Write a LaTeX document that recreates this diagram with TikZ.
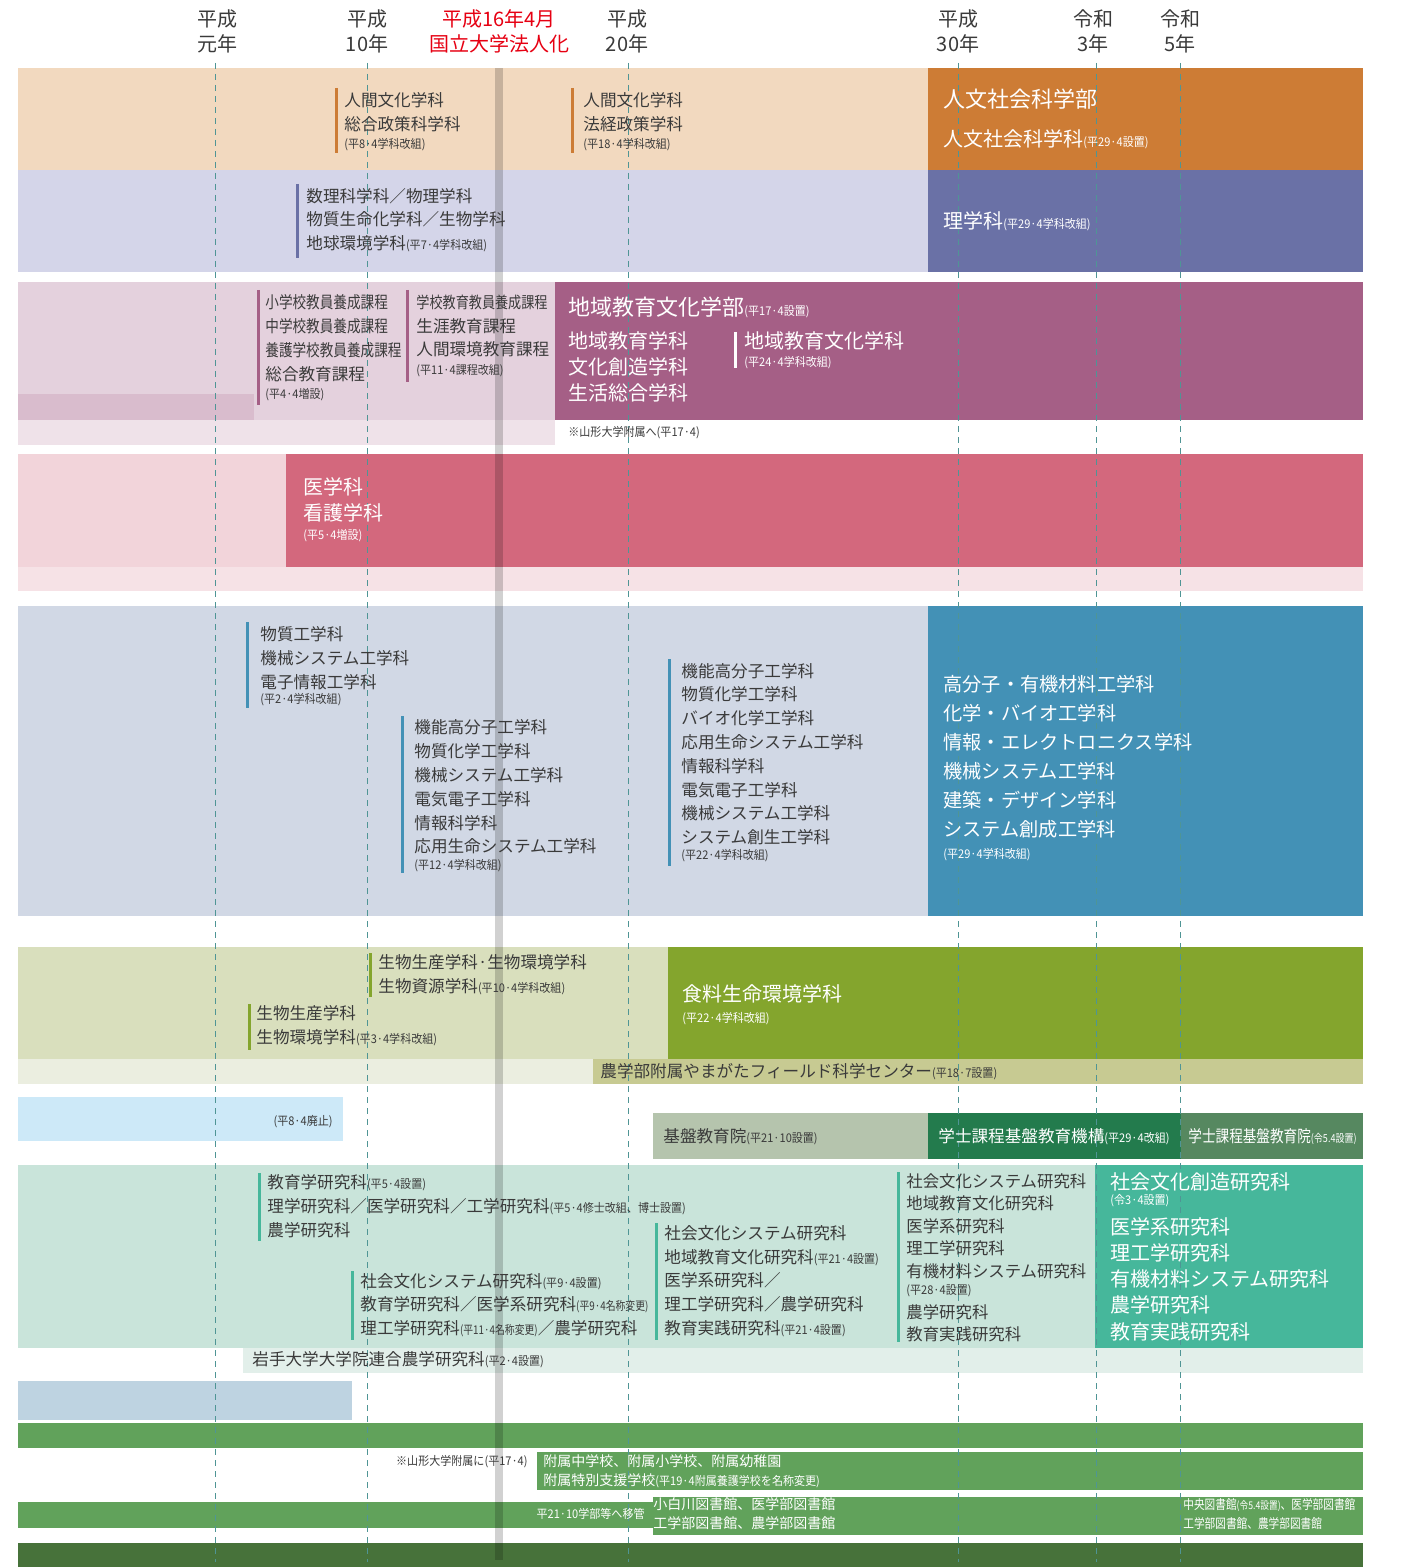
\documentclass[tikz,border=0pt]{standalone}
\usepackage{fontspec}
\setmainfont{Noto Sans CJK JP}
\newfontfamily\jpnarrow[FakeStretch=0.82]{Noto Sans CJK JP}
\newfontfamily\jpnote[FakeStretch=0.92]{Noto Sans CJK JP}

\definecolor{ink}{HTML}{3A3A3A}
\definecolor{eramark}{HTML}{E60012}
\definecolor{yearcol}{HTML}{4F9595}
\definecolor{humlight}{HTML}{F2D9BF}
\definecolor{humdark}{HTML}{CD7C35}
\definecolor{scilight}{HTML}{D4D5E9}
\definecolor{scidark}{HTML}{6A71A6}
\definecolor{edulight}{HTML}{E4D1DD}
\definecolor{edusub}{HTML}{D9BCCD}
\definecolor{edustripe}{HTML}{EFE2E9}
\definecolor{edudark}{HTML}{A55F86}
\definecolor{medlight}{HTML}{F2D4DA}
\definecolor{meddark}{HTML}{D3687D}
\definecolor{medstripe}{HTML}{F6E2E6}
\definecolor{englight}{HTML}{D1D8E5}
\definecolor{engdark}{HTML}{4391B6}
\definecolor{agrlight}{HTML}{D9DFBD}
\definecolor{agrdark}{HTML}{84A52D}
\definecolor{agrstripe}{HTML}{EBEEE0}
\definecolor{fieldcol}{HTML}{C7CA92}
\definecolor{oldblue}{HTML}{CDE9F8}
\definecolor{kibancol}{HTML}{B5C4AD}
\definecolor{kikoucol}{HTML}{237B4D}
\definecolor{kibanin}{HTML}{568860}
\definecolor{gradlight}{HTML}{C9E4DA}
\definecolor{graddark}{HTML}{46B79B}
\definecolor{gradstripe}{HTML}{E2EFEA}
\definecolor{steelcol}{HTML}{BED3E1}
\definecolor{schoolcol}{HTML}{61A25B}
\definecolor{darkrow}{HTML}{47723A}

\newcommand{\anno}[1]{{\jpnote\fontsize{6}{7}\selectfont #1}}
\newcommand{\annonarrow}[1]{{\jpnarrow\fontsize{6}{7}\selectfont #1}}

\tikzset{
  dept/.style={anchor=west, inner sep=0pt, align=left, text=ink, font=\fontsize{8.3}{11.9}\selectfont},
  wdept/.style={dept, text=white, font=\fontsize{10}{13}\selectfont},
  whead/.style={dept, text=white, font=\fontsize{11}{13}\selectfont},
  note/.style={anchor=west, inner sep=0pt, text=ink, font=\jpnote\fontsize{6}{7}\selectfont},
  wnote/.style={note, text=white},
  era/.style={align=center, inner sep=0pt, text=ink, font=\fontsize{10}{12.5}\selectfont},
  yearmark/.style={yearcol, line width=0.5pt, dash pattern=on 3pt off 2.5pt},
  deptbar/.style={line width=1.5pt},
}

\begin{document}
\begin{tikzpicture}[x=0.5pt,y=-0.5pt]
\useasboundingbox (0,0) rectangle (1410,1567);

% faculty bands
\fill[humlight] (18,68) rectangle (928,170);
\fill[humdark] (928,68) rectangle (1363,170);
\fill[scilight] (18,170) rectangle (928,272);
\fill[scidark] (928,170) rectangle (1363,272);
\fill[edulight] (18,282) rectangle (555,420);
\fill[edusub] (18,394) rectangle (254,420);
\fill[edustripe] (18,420) rectangle (555,445);
\fill[edudark] (555,282) rectangle (1363,420);
\fill[medlight] (18,454) rectangle (286,567);
\fill[meddark] (286,454) rectangle (1363,567);
\fill[medstripe] (18,567) rectangle (1363,591);
\fill[englight] (18,606) rectangle (928,916);
\fill[engdark] (928,606) rectangle (1363,916);
\fill[agrlight] (18,947) rectangle (668,1059);
\fill[agrdark] (668,947) rectangle (1363,1059);
\fill[agrstripe] (18,1059) rectangle (593,1084);
\fill[fieldcol] (593,1059) rectangle (1363,1084);
\fill[oldblue] (18,1097) rectangle (343,1141);
\fill[kibancol] (653,1113) rectangle (928,1159);
\fill[kikoucol] (928,1113) rectangle (1181,1159);
\fill[kibanin] (1181,1113) rectangle (1363,1159);
\fill[gradlight] (18,1165) rectangle (1095,1348);
\fill[graddark] (1095,1165) rectangle (1363,1348);
\fill[gradstripe] (243,1348) rectangle (1363,1373);
\fill[steelcol] (18,1381) rectangle (352,1420);
\fill[schoolcol] (18,1423) rectangle (1363,1448);
\fill[schoolcol] (537,1452) rectangle (1363,1490);
\fill[schoolcol] (18,1502) rectangle (653,1528);
\fill[schoolcol] (653,1497) rectangle (1363,1535);
\fill[darkrow] (18,1543) rectangle (1363,1567);

% year lines
\foreach \x in {215,367,628,958,1096,1180}
  \draw[yearmark] (\x,63) -- (\x,1562);
\fill[black, opacity=0.18] (495,68) rectangle (503,1560);

% header
\node[era] at (217,31) (e01) {平成\\元年};
\node[era] at (367,31) (e10) {平成\\10年};
\node[era, text=eramark] at (499,31) (e16) {平成16年4月\\国立大学法人化};
\node[era] at (627,31) (e20) {平成\\20年};
\node[era] at (958,31) (e30) {平成\\30年};
\node[era] at (1093,31) (r03) {令和\\3年};
\node[era] at (1180,31) (r05) {令和\\5年};

% humanities
\draw[deptbar, humdark] (336,88) -- (336,153);
\node[dept] at (344,112) (hum08) {人間文化学科\\総合政策科学科};
\node[note] at (344,145) (hum08n) {(平8·4学科改組)};
\draw[deptbar, humdark] (572,88) -- (572,153);
\node[dept] at (583,112) (hum18) {人間文化学科\\法経政策学科};
\node[note] at (583,145) (hum18n) {(平18·4学科改組)};
\node[whead] at (943,99) (humfac) {人文社会科学部};
\node[wdept] at (943,139) (humdep) {人文社会科学科\anno{(平29·4設置)}};

% science
\draw[deptbar, scidark] (297,184) -- (297,258);
\node[dept] at (306,220) (sci07) {数理科学科／物理学科\\物質生命化学科／生物学科\\地球環境学科\anno{(平7·4学科改組)}};
\node[wdept] at (943,221) (scidep) {理学科\anno{(平29·4学科改組)}};

% education
\draw[deptbar, edudark] (258,290) -- (258,405);
\node[dept] at (265,338) (edu04) {{\jpnarrow 小学校教員養成課程}\\{\jpnarrow 中学校教員養成課程}\\{\jpnarrow 養護学校教員養成課程}\\総合教育課程};
\node[note] at (265,395) (edu04n) {(平4·4増設)};
\draw[deptbar, edudark] (407,290) -- (407,382);
\node[dept] at (416,326) (edu11) {{\jpnarrow\fontsize{8}{11.9}\selectfont 学校教育教員養成課程}\\生涯教育課程\\人間環境教育課程};
\node[note] at (416,371) (edu11n) {(平11·4課程改組)};
\node[whead] at (568,307) (edufac) {地域教育文化学部\anno{(平17·4設置)}};
\node[wdept] at (568,367) (edudeps) {地域教育学科\\文化創造学科\\生活総合学科};
\draw[deptbar, white] (735,332) -- (735,368);
\node[wdept] at (744,341) (edu24) {地域教育文化学科};
\node[wnote] at (744,363) (edu24n) {(平24·4学科改組)};
\node[note] at (568,433) (eduout) {※山形大学附属へ(平17·4)};

% medicine
\node[wdept] at (303,500) (med) {医学科\\看護学科};
\node[wnote] at (303,536) (medn) {(平5·4増設)};

% engineering
\draw[deptbar, engdark] (247,622) -- (247,708);
\node[dept] at (260,658) (eng02) {物質工学科\\機械システム工学科\\電子情報工学科};
\node[note] at (260,700) (eng02n) {(平2·4学科改組)};
\draw[deptbar, engdark] (402,716) -- (402,873);
\node[dept] at (414,787) (eng12) {機能高分子工学科\\物質化学工学科\\機械システム工学科\\電気電子工学科\\情報科学科\\応用生命システム工学科};
\node[note] at (414,866) (eng12n) {(平12·4学科改組)};
\draw[deptbar, engdark] (669,659) -- (669,866);
\node[dept] at (681,754) (eng22) {機能高分子工学科\\物質化学工学科\\バイオ化学工学科\\応用生命システム工学科\\情報科学科\\電気電子工学科\\機械システム工学科\\システム創生工学科};
\node[note] at (681,856) (eng22n) {(平22·4学科改組)};
\node[wdept, font=\fontsize{9.6}{14.5}\selectfont] at (943,757) (eng29) {高分子・有機材料工学科\\化学・バイオ工学科\\情報・エレクトロニクス学科\\機械システム工学科\\建築・デザイン学科\\システム創成工学科};
\node[wnote] at (943,855) (eng29n) {(平29·4学科改組)};

% agriculture
\draw[deptbar, agrdark] (370,953) -- (370,997);
\node[dept] at (378,975) (agr10) {生物生産学科·生物環境学科\\生物資源学科\anno{(平10·4学科改組)}};
\draw[deptbar, agrdark] (249,1004) -- (249,1050);
\node[dept] at (256,1026) (agr03) {生物生産学科\\生物環境学科\anno{(平3·4学科改組)}};
\node[wdept] at (682,994) (agr22) {食料生命環境学科};
\node[wnote] at (682,1019) (agr22n) {(平22·4学科改組)};
\node[dept] at (600,1072) (field) {農学部附属やまがたフィールド科学センター\anno{(平18·7設置)}};

% general education
\node[note, anchor=east] at (333,1122) (haishi) {(平8·4廃止)};
\node[dept] at (663,1137) (kiban) {基盤教育院\anno{(平21·10設置)}};
\node[dept, text=white] at (938,1137) (kikou) {学士課程基盤教育機構\anno{(平29·4改組)}};
\node[dept, text=white, font=\jpnarrow\fontsize{8.3}{10}\selectfont] at (1188,1137) (kibanin) {学士課程基盤教育院{\fontsize{5.5}{7}\selectfont(令5.4設置)}};

% graduate schools
\draw[deptbar, graddark] (259,1173) -- (259,1241);
\node[dept] at (267,1206) (grad05) {教育学研究科\anno{(平5·4設置)}\\理学研究科／医学研究科／工学研究科\anno{(平5·4修士改組、博士設置)}\\農学研究科};
\draw[deptbar, graddark] (352,1271) -- (352,1340);
\node[dept] at (360,1305) (grad09) {社会文化システム研究科\anno{(平9·4設置)}\\教育学研究科／医学系研究科\annonarrow{(平9·4名称変更)}\\理工学研究科\annonarrow{(平11·4名称変更)}／農学研究科};
\draw[deptbar, graddark] (656,1223) -- (656,1340);
\node[dept] at (664,1281) (grad21) {社会文化システム研究科\\地域教育文化研究科\anno{(平21·4設置)}\\医学系研究科／\\理工学研究科／農学研究科\\教育実践研究科\anno{(平21·4設置)}};
\draw[deptbar, graddark] (898,1172) -- (898,1342);
\node[dept, font=\fontsize{8.2}{11.25}\selectfont] at (906,1226) (grad28) {社会文化システム研究科\\地域教育文化研究科\\医学系研究科\\理工学研究科\\有機材料システム研究科};
\node[note] at (906,1291) (grad28n) {(平28·4設置)};
\node[dept, font=\fontsize{8.2}{11.25}\selectfont] at (906,1323) (grad28b) {農学研究科\\教育実践研究科};
\node[wdept] at (1110,1182) (grad03) {社会文化創造研究科};
\node[wnote] at (1110,1201) (grad03n) {(令3·4設置)};
\node[wdept, font=\fontsize{10}{13.1}\selectfont] at (1110,1279) (grad03b) {医学系研究科\\理工学研究科\\有機材料システム研究科\\農学研究科\\教育実践研究科};
\node[dept] at (252,1360) (iwate) {岩手大学大学院連合農学研究科\anno{(平2·4設置)}};

% attached schools and libraries
\node[note, anchor=east] at (528,1462) (fuzokun) {※山形大学附属に(平17·4)};
\node[dept, text=white, font=\fontsize{7}{9.5}\selectfont] at (543,1471) (fuzoku) {附属中学校、附属小学校、附属幼稚園\\附属特別支援学校\anno{(平19·4附属養護学校を名称変更)}};
\node[wnote, anchor=east] at (645,1514) (ikan) {平21·10学部等へ移管};
\node[dept, text=white, font=\fontsize{7}{9.5}\selectfont] at (653,1514) (lib) {小白川図書館、医学部図書館\\工学部図書館、農学部図書館};
\node[dept, text=white, font=\jpnarrow\fontsize{6.5}{9.5}\selectfont] at (1183,1514) (libnew) {中央図書館{\fontsize{5.3}{6}\selectfont(令5.4設置)}、医学部図書館\\工学部図書館、農学部図書館};
\end{tikzpicture}
\end{document}
